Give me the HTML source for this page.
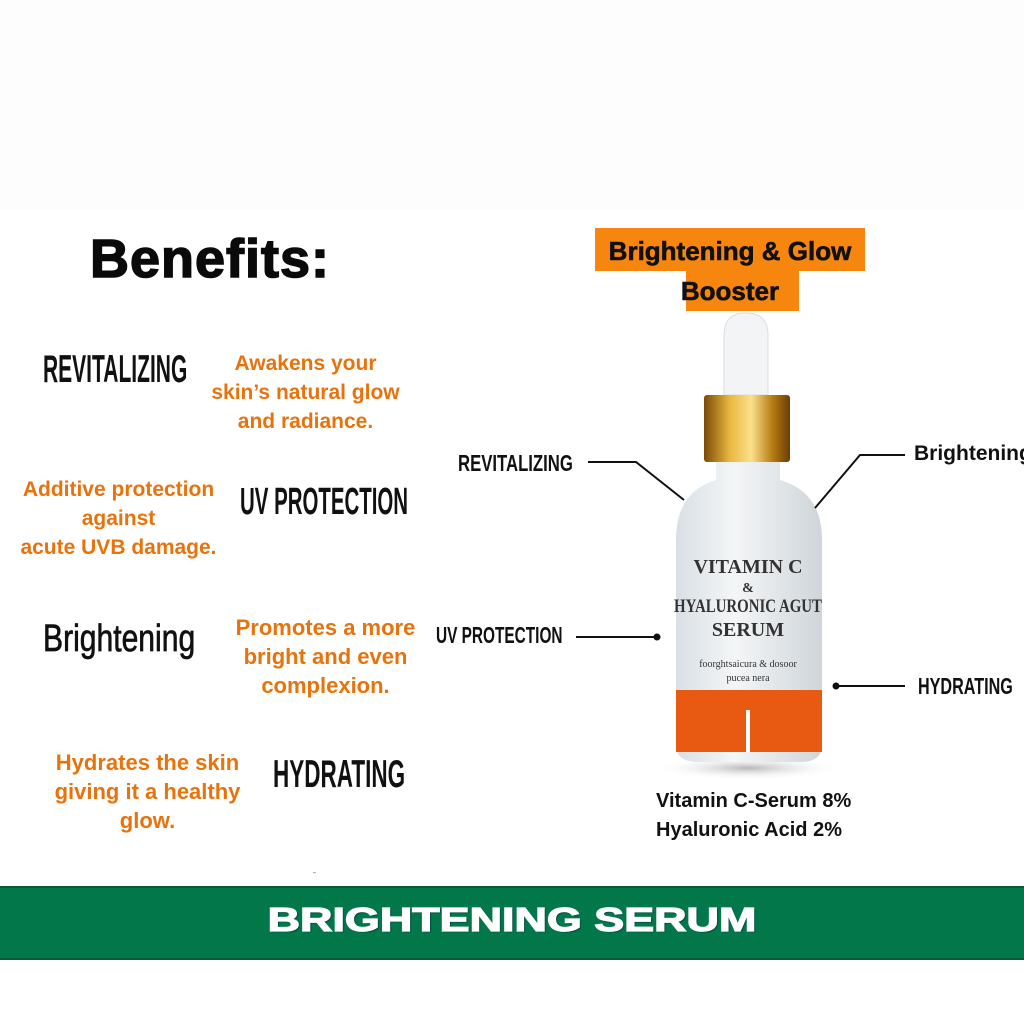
<!DOCTYPE html>
<html><head><meta charset="utf-8"><style>
body{margin:0;width:1024px;height:1024px;background:#fff;position:relative;overflow:hidden;font-family:"Liberation Sans",sans-serif}
.a{position:absolute;white-space:nowrap}
.h{font-family:"Liberation Sans Narrow","Liberation Sans",sans-serif;font-weight:bold;color:#111;transform-origin:left top}
.o{color:#e8730c;font-weight:bold;font-size:21px;text-align:center;line-height:29px}
.s{font-family:"Liberation Sans Narrow","Liberation Sans",sans-serif;font-weight:bold;font-size:19px;color:#111;transform-origin:left top}
</style></head><body>
<div class="a" style="left:0;top:0;width:1024px;height:210px;background:#fdfdfd"></div>
<div class="a" style="left:90px;top:228px;font-size:54px;font-weight:bold;color:#0a0a0a;letter-spacing:1px;-webkit-text-stroke:1.5px #0a0a0a">Benefits:</div>

<div class="a h" style="left:43px;top:347px;font-size:28px;transform:scale(0.75,1.4)">REVITALIZING</div>
<div class="a o" style="left:193px;top:349px;width:225px">Awakens your<br>skin’s natural glow<br>and radiance.</div>

<div class="a o" style="left:6px;top:475px;width:225px">Additive protection<br>against<br>acute UVB damage.</div>
<div class="a h" style="left:240px;top:480px;font-size:28px;transform:scale(0.73,1.35)">UV PROTECTION</div>

<div class="a h" style="left:43px;top:616px;font-size:32px;font-weight:normal;-webkit-text-stroke:0.6px #111;transform:scale(0.94,1.2)">Brightening</div>
<div class="a o" style="left:213px;top:613px;width:225px;font-size:22px">Promotes a more<br>bright and even<br>complexion.</div>

<div class="a o" style="left:35px;top:748px;width:225px;font-size:22px">Hydrates the skin<br>giving it a healthy<br>glow.</div>
<div class="a h" style="left:273px;top:753px;font-size:30px;transform:scale(0.75,1.3)">HYDRATING</div>

<div class="a" style="left:313px;top:872px;font-size:5px;color:#555">'''</div>

<div class="a" style="left:0;top:886px;width:1024px;height:70px;background:#02784a;border-top:2px solid #0b5a36;border-bottom:2px solid #0b5a36"></div>
<div class="a" style="left:0;top:901px;width:1024px;text-align:center;font-size:33px;font-weight:bold;color:#fff;text-shadow:1px 1px 1px #034;-webkit-text-stroke:1.2px #fff;transform:scaleX(1.36);transform-origin:512px 0">BRIGHTENING SERUM</div>

<!-- orange title -->
<div class="a" style="left:595px;top:228px;width:270px;height:43px;background:#f7860f"></div>
<div class="a" style="left:686px;top:270px;width:113px;height:41px;background:#f7860f"></div>
<div class="a" style="left:595px;top:231px;width:270px;text-align:center;font-size:26px;font-weight:bold;color:#111;line-height:40px;-webkit-text-stroke:0.6px #111">Brightening &amp; Glow<br>Booster</div>

<svg class="a" style="left:0;top:0" width="1024" height="1024">
<defs>
<linearGradient id="g" x1="0" x2="1"><stop offset="0" stop-color="#7a4a05"/><stop offset=".3" stop-color="#e9b840"/><stop offset=".55" stop-color="#fbe08a"/><stop offset=".8" stop-color="#b57a12"/><stop offset="1" stop-color="#6a3e05"/></linearGradient>
<linearGradient id="b" x1="0" x2="1"><stop offset="0" stop-color="#d9dfe4"/><stop offset=".4" stop-color="#f4f6f7"/><stop offset="1" stop-color="#cfd5da"/></linearGradient>
<radialGradient id="sh"><stop offset="0" stop-color="#888" stop-opacity=".6"/><stop offset="1" stop-color="#fff" stop-opacity="0"/></radialGradient>
</defs>
<ellipse cx="748" cy="768" rx="95" ry="12" fill="url(#sh)"/>
<path d="M724 395 L724 335 Q724 313 746 313 Q768 313 768 335 L768 395 Z" fill="#f3f4f5" stroke="#ddd"/>
<path d="M716 460 L780 460 L780 480 Q822 492 822 540 L822 745 Q822 762 800 762 L698 762 Q676 762 676 745 L676 540 Q676 492 716 480 Z" fill="url(#b)"/>
<rect x="676" y="690" width="146" height="62" fill="#e85a12"/>
<rect x="746" y="710" width="4" height="42" fill="#fff"/>
<rect x="704" y="395" width="86" height="67" rx="3" fill="url(#g)"/>
<g stroke="#111" stroke-width="2" fill="none">
<polyline points="588,462 636,462 684,500"/>
<polyline points="905,455 860,455 815,508"/>
<line x1="576" y1="637" x2="657" y2="637"/>
<line x1="836" y1="686" x2="905" y2="686"/>
</g>
<circle cx="657" cy="637" r="3.5" fill="#111"/><circle cx="836" cy="686" r="3.5" fill="#111"/>
<g font-family="Liberation Serif,serif" font-weight="bold" fill="#333" text-anchor="middle">
<text x="748" y="573" font-size="20">VITAMIN C</text>
<text x="748" y="592" font-size="14">&amp;</text>
<text x="748" y="612" font-size="19" textLength="148" lengthAdjust="spacingAndGlyphs">HYALURONIC AGUT</text>
<text x="748" y="636" font-size="20">SERUM</text>
<text x="748" y="667" font-size="10" font-weight="normal">foorghtsaicura &amp; dosoor</text>
<text x="748" y="681" font-size="10" font-weight="normal">pucea nera</text>
</g>
</svg>

<div class="a s" style="left:458px;top:452px;transform:scale(0.88,1.2)">REVITALIZING</div>
<div class="a" style="left:914px;top:442px;font-size:21px;font-weight:bold;color:#111">Brightening</div>
<div class="a s" style="left:436px;top:624px;transform:scale(0.81,1.2)">UV PROTECTION</div>
<div class="a s" style="left:918px;top:675px;transform:scale(0.85,1.2)">HYDRATING</div>
<div class="a" style="left:656px;top:787px;font-size:20px;font-weight:bold;color:#111;line-height:29px">Vitamin C-Serum 8%<br>Hyaluronic Acid 2%</div>
</body></html>
